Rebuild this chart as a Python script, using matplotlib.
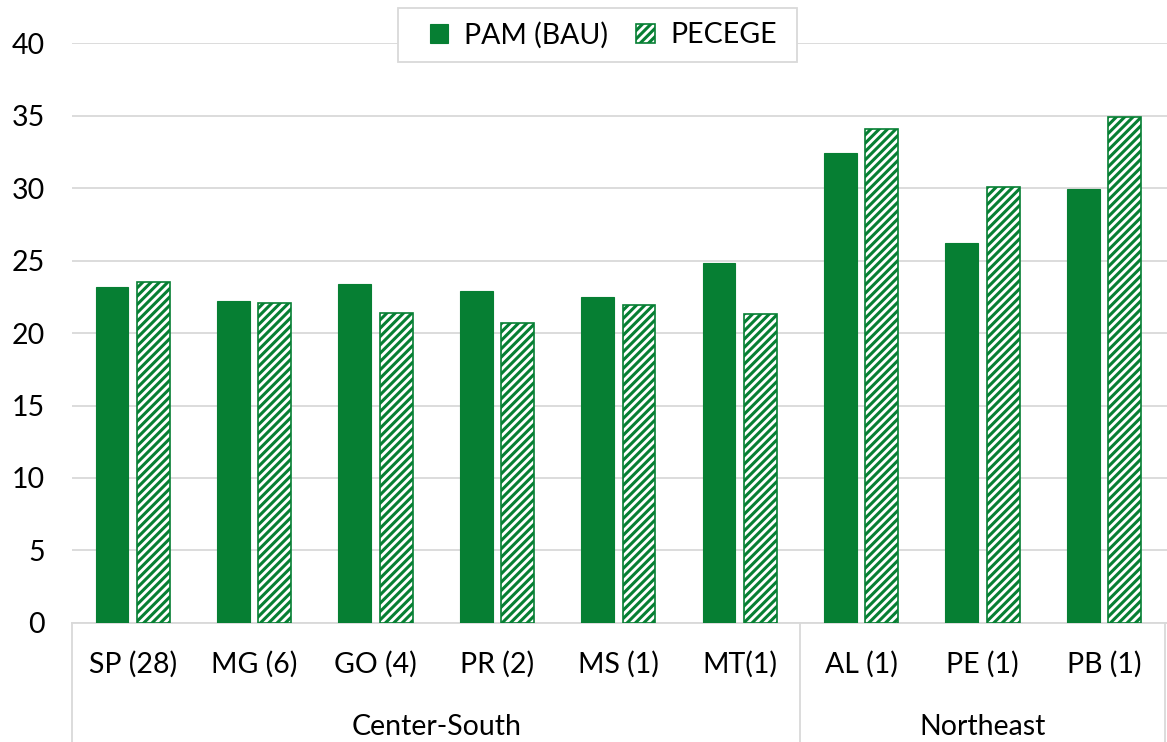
import numpy as np
import matplotlib.pyplot as plt
import matplotlib.transforms as mtransforms
from matplotlib.patches import Rectangle

plt.rcParams['font.family'] = ['Lato', 'DejaVu Sans']
plt.rcParams['hatch.linewidth'] = 2.2

states = ['SP (28)', 'MG (6)', 'GO (4)', 'PR (2)', 'MS (1)', 'MT(1)', 'AL (1)', 'PE (1)', 'PB (1)']
pam = [23.2, 22.2, 23.4, 22.9, 22.5, 24.8, 32.4, 26.2, 29.9]
pecege = [23.5, 22.1, 21.4, 20.7, 21.9, 21.3, 34.1, 30.1, 34.9]
regions = ['Center-South', 'Northeast']
region_sizes = [6, 3]

green = '#067f33'
grey = '#d9d9d9'
fs = 20.5

W, H = 1167, 742
fig = plt.figure(figsize=(W / 100, H / 100), dpi=100)
ax = fig.add_axes([0.0617, 0.1604, 0.9383, 0.7816])

x = np.arange(len(states))
w = 0.27
b1 = ax.bar(x - 0.17, pam, w, color=green, edgecolor=green, linewidth=0.8, label='PAM (BAU)', zorder=3)
b2 = ax.bar(x + 0.17, pecege, w, facecolor='white', edgecolor=green, hatch='////',
            linewidth=1.2, label='PECEGE', zorder=3)

ax.set_ylim(0, 40)
ax.set_xlim(-0.5, len(states) - 0.48)
ax.set_yticks(range(0, 41, 5))
ax.yaxis.grid(True, color=grey, linewidth=1.3, zorder=0)
ax.set_axisbelow(True)
for s in ['top', 'right', 'left']:
    ax.spines[s].set_visible(False)
ax.spines['bottom'].set_color(grey)
ax.spines['bottom'].set_linewidth(1.3)
ax.tick_params(axis='both', length=0, labelsize=fs, colors='black')
ax.tick_params(axis='y', pad=19.5)
ax.tick_params(axis='x', pad=20)
ax.set_xticks(x)
ax.set_xticklabels(states)

# region brackets under the state labels
trans = mtransforms.blended_transform_factory(ax.transData, ax.transAxes)
bottom = -0.21
edges = np.concatenate([[0], np.cumsum(region_sizes)]) - 0.5
for e in edges:
    ax.plot([e, e], [0, bottom], transform=trans, color=grey, linewidth=1.3, clip_on=False)
for name, a, b in zip(regions, edges[:-1], edges[1:]):
    ax.text((a + b) / 2, -0.18, name, transform=trans, ha='center', va='center', fontsize=fs)

# legend box drawn separately so it can be wider than the entries
fig.patches.append(Rectangle((398 / W, 1 - 62 / H), 399 / W, 54 / H, transform=fig.transFigure,
                             facecolor='white', edgecolor=grey, linewidth=1.3, zorder=2))
fig.legend(handles=[b1, b2], loc='center', bbox_to_anchor=(0.517, 0.953), ncol=2, fontsize=fs,
           frameon=False, handlelength=0.65, handleheight=0.65, handletextpad=0.55,
           columnspacing=1.0, borderpad=0)

fig.savefig('out.png', dpi=100)
